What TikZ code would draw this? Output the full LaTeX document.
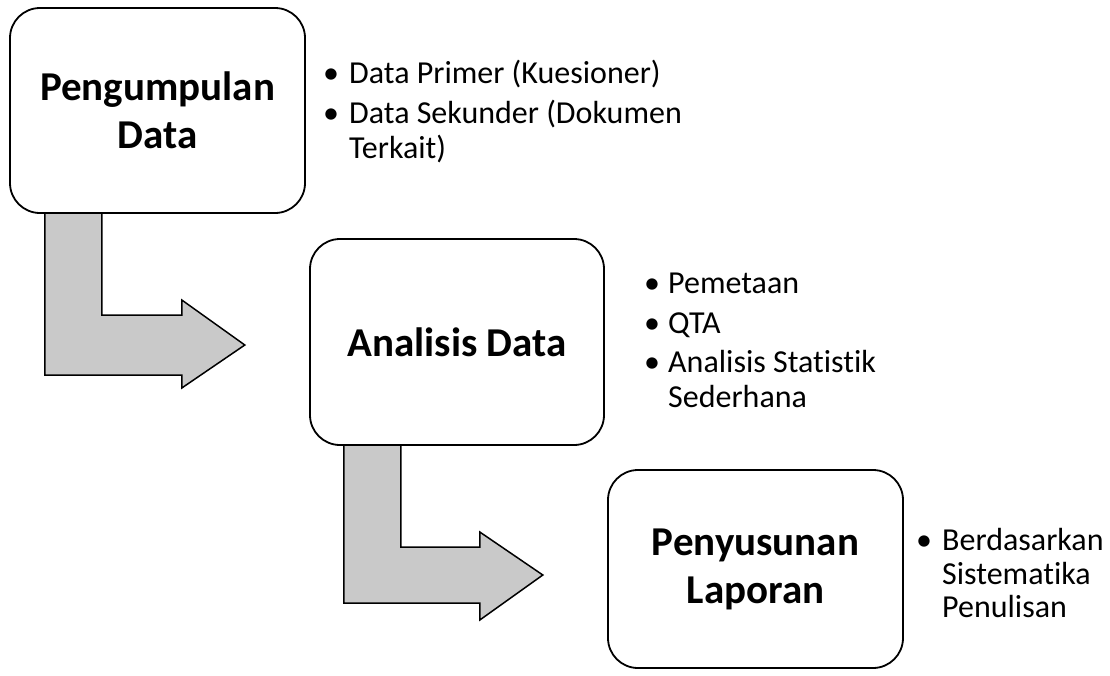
\documentclass[tikz,border=0pt]{standalone}
\usepackage{fontspec}
\setmainfont{Carlito}[Ligatures=NoCommon]
\usetikzlibrary{calc}
\definecolor{arrowgray}{HTML}{C9C9C9}
\tikzset{
  stage/.style={draw=black, line width=1.8pt, fill=white, rounded corners=30pt,
    inner sep=0pt, align=center, font=\fontsize{41}{48}\selectfont\bfseries},
  bentarrow/.style={draw=black, line width=1.5pt, fill=arrowgray, line join=miter},
  bul/.style={anchor=base, inner sep=0pt, font=\fontsize{32}{38}\selectfont},
  item/.style={anchor=base west, inner sep=0pt, font=\fontsize{32}{38}\selectfont},
}
\begin{document}
\begin{tikzpicture}[x=1pt,y=-1pt]
\useasboundingbox (0,0) rectangle (1110,675);
% placeholders for box geometry
\path (157.5,110.5) node[minimum width=295pt, minimum height=205pt] (p1) {};
\path (457,342) node[minimum width=294pt, minimum height=206pt] (p2) {};
\path (755.5,569) node[minimum width=295pt, minimum height=198pt] (p3) {};
% bent arrows
\draw[bentarrow] ($(p1.south west)+(35,0)$) -- ($(p1.south west)+(92,0)$)
  |- ($(p2.west)+(-128,-27)$) -- ($(p2.west)+(-128,-42)$)
  -- ($(p2.west)+(-65,3)$) -- ($(p2.west)+(-128,46)$)
  -- ($(p2.west)+(-128,33)$) -| cycle;
\draw[bentarrow] ($(p2.south west)+(34,0)$) -- ($(p2.south west)+(91,0)$)
  |- ($(p3.west)+(-128,-22)$) -- ($(p3.west)+(-128,-37)$)
  -- ($(p3.west)+(-65,6)$) -- ($(p3.west)+(-128,51)$)
  -- ($(p3.west)+(-128,34)$) -| cycle;
% boxes
\node[stage, minimum width=295pt, minimum height=205pt] (b1) at (p1) {Pengumpulan\\Data};
\node[stage, minimum width=294pt, minimum height=206pt] (b2) at (p2) {Analisis Data};
\node[stage, minimum width=295pt, minimum height=198pt] (b3) at (p3) {Penyusunan\\Laporan};
% list 1
\node[bul] (l1a) at (331,83) {•};
\node[item] (t1a) at (349,83) {Data Primer (Kuesioner)};
\node[bul] (l1b) at (331,123) {•};
\node[item] (t1b) at (349,123) {Data Sekunder (Dokumen};
\node[item] (t1c) at (349,158) {Terkait)};
% list 2
\node[bul] (l2a) at (652,293) {•};
\node[item] (t2a) at (668,293) {Pemetaan};
\node[bul] (l2b) at (652,333) {•};
\node[item] (t2b) at (668,333) {QTA};
\node[bul] (l2c) at (652,372) {•};
\node[item] (t2c) at (668,372) {Analisis Statistik};
\node[item] (t2d) at (668,407) {Sederhana};
% list 3
\node[bul] (l3a) at (924,550) {•};
\node[item] (t3a) at (942,550) {Berdasarkan};
\node[item] (t3b) at (942,584) {Sistematika};
\node[item] (t3c) at (942,617) {Penulisan};
\end{tikzpicture}
\end{document}
